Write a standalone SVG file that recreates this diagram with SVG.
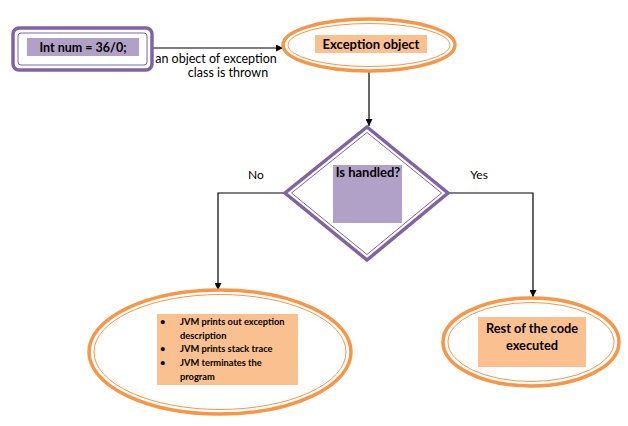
<svg xmlns="http://www.w3.org/2000/svg" width="628" height="426" viewBox="0 0 628 426">
<defs>
<style>
.t{font-family:Lato,"Liberation Sans",sans-serif;fill:#000}
.b{font-weight:bold}
.po{fill:#fff;stroke:#8064A2;stroke-width:3.5}
.pi{fill:none;stroke:#8064A2;stroke-width:1}
.oo{fill:#fff;stroke:#F79646;stroke-width:3.5}
.oi{fill:none;stroke:#F79646;stroke-width:1}
.pf{fill:#B2A1C7}
.of{fill:#FAC090}
.c{fill:none;stroke:#000;stroke-width:1.2}
</style>
<marker id="ah" viewBox="0 0 10 10" refX="10" refY="5" markerWidth="7" markerHeight="7" orient="auto" markerUnits="userSpaceOnUse">
<path d="M0,0 L10,5 L0,10 z" fill="#000"/>
</marker>
</defs>
<rect width="628" height="426" fill="#fff"/>
<g id="connectors">
<line class="c" x1="153" y1="48" x2="283" y2="48" marker-end="url(#ah)"/>
<line class="c" x1="369" y1="72" x2="369" y2="126" marker-end="url(#ah)"/>
<polyline class="c" points="285,193 218,193 218,290" marker-end="url(#ah)"/>
<polyline class="c" points="448,193 533,193 533,297" marker-end="url(#ah)"/>
<text class="t" x="216" y="63" font-size="12.5" text-anchor="middle">an object of exception</text>
<text class="t" x="228" y="77" font-size="12.5" text-anchor="middle">class is thrown</text>
<text class="t" x="256" y="179" font-size="12" text-anchor="middle">No</text>
<text class="t" x="479" y="179" font-size="12" text-anchor="middle">Yes</text>
</g>
<g id="start">
<rect class="po" x="13" y="28" width="139" height="42" rx="6"/>
<rect class="pi" x="18" y="33" width="129" height="32" rx="3"/>
<rect class="pf" x="27" y="38" width="112" height="18"/>
<text class="t b" x="83" y="51.5" font-size="12.5" text-anchor="middle">Int num = 36/0;</text>
</g>
<g id="exception">
<ellipse class="oo" cx="369" cy="45" rx="86" ry="26"/>
<ellipse class="oi" cx="369" cy="45" rx="81" ry="21.5"/>
<rect class="of" x="315" y="35" width="112" height="18"/>
<text class="t b" x="371" y="49" font-size="13" text-anchor="middle">Exception object</text>
</g>
<g id="decision">
<polygon class="po" points="367,127 448,193 367,260 285,193"/>
<polygon class="pi" points="367,132.5 441.5,193 367,254.5 291.5,193"/>
<rect class="pf" x="333" y="165" width="69" height="58"/>
<text class="t b" x="368" y="176.5" font-size="13" text-anchor="middle">Is handled?</text>
</g>
<g id="jvm">
<ellipse class="oo" cx="220" cy="352" rx="131" ry="62"/>
<ellipse class="oi" cx="220" cy="352" rx="126" ry="57.5"/>
<rect class="of" x="157" y="314" width="141" height="71"/>
<g class="t b" font-size="9.3">
<text x="160" y="325">•</text>
<text x="180" y="325">JVM prints out exception</text>
<text x="180" y="338.5">description</text>
<text x="160" y="352">•</text>
<text x="180" y="352">JVM prints stack trace</text>
<text x="160" y="366">•</text>
<text x="180" y="366">JVM terminates the</text>
<text x="180" y="379.5">program</text>
</g>
</g>
<g id="rest">
<ellipse class="oo" cx="531" cy="342" rx="88" ry="44"/>
<ellipse class="oi" cx="531" cy="342" rx="83" ry="39.5"/>
<rect class="of" x="478" y="317" width="108" height="50"/>
<text class="t b" x="532" y="333" font-size="12.8" text-anchor="middle">Rest of the code</text>
<text class="t b" x="532" y="350" font-size="12.8" text-anchor="middle">executed</text>
</g>
</svg>
